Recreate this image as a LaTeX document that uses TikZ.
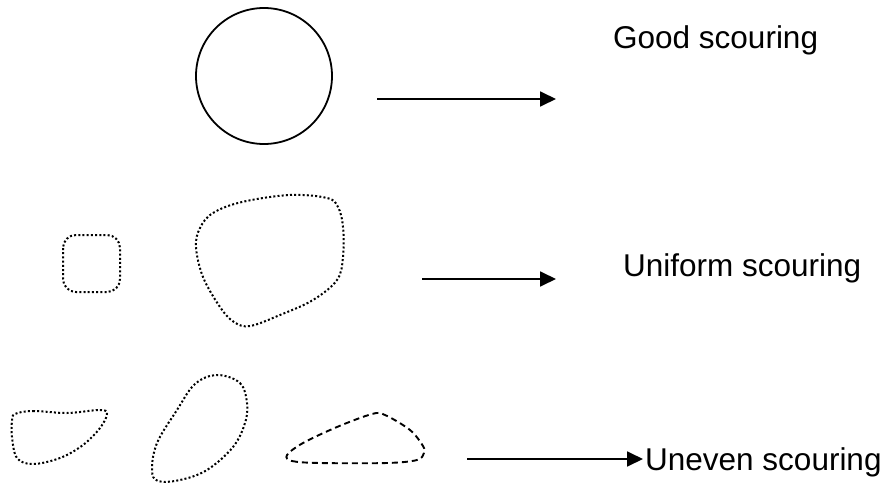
\documentclass[tikz,border=0pt]{standalone}
\usepackage{fontspec}
\setmainfont{Liberation Sans}
\usetikzlibrary{arrows.meta}
\tikzset{
  lbl/.style={inner sep=0pt, anchor=base west, font=\fontsize{31.5}{38}\selectfont},
  arr/.style={line width=1.8pt, -{Triangle[length=16pt,width=15pt]}},
  dotline/.style={line width=2pt, dash pattern=on 2pt off 2.2pt},
  dashline/.style={line width=1.9pt, dash pattern=on 6pt off 4pt},
}
\begin{document}
\begin{tikzpicture}[x=1pt,y=-1pt]
\useasboundingbox (0,0) rectangle (885,489);
% row 1
\node[circle, draw, line width=1.8pt, minimum size=136pt, inner sep=0pt] (good) at (264,76) {};
\coordinate (a1s) at (377,99);
\coordinate (a1e) at (556,99);
\draw[arr] (a1s) -- (a1e);
\node[lbl] (goodtxt) at (613,49) {Good scouring};
% row 2
\draw[dotline, rounded corners=13pt] (63,235) rectangle (120,292);
\draw[dotline] plot[smooth cycle, tension=0.6] coordinates {
  (242,202) (290,195) (327,198) (338,207) (343,227) (343,257) (337,280)
  (313,300) (280,315) (250,326) (234,322) (220,307) (203,277) (196,247)
  (200,228) (213,213)};
\coordinate (a2s) at (422,279);
\coordinate (a2e) at (556,279);
\draw[arr] (a2s) -- (a2e);
\node[lbl] (uniftxt) at (623,276) {Uniform scouring};
% row 3
\draw[dotline] plot[smooth cycle, tension=0.6] coordinates {
  (15,414) (33,411) (67,413) (100,410) (107,414) (100,428) (83,445)
  (60,458) (33,464) (17,458) (12,437) (12,421)};
\draw[dotline] plot[smooth cycle, tension=0.6] coordinates {
  (217,375) (240,383) (247,403) (245,423) (233,447) (207,470) (180,480)
  (158,481) (152,470) (157,443) (177,410) (195,384)};
\draw[dashline] plot[smooth cycle, tension=0.55] coordinates {
  (287,455) (292,461) (320,463) (387,463) (417,460) (424,453) (423,446)
  (410,430) (385,415) (372,414) (337,427) (303,443)};
\node[lbl] (uneventxt) at (645,470) {Uneven scouring};
\coordinate (a3s) at (467,459);
\coordinate (a3e) at (643,459);
\draw[arr] (a3s) -- (a3e);
\end{tikzpicture}
\end{document}
